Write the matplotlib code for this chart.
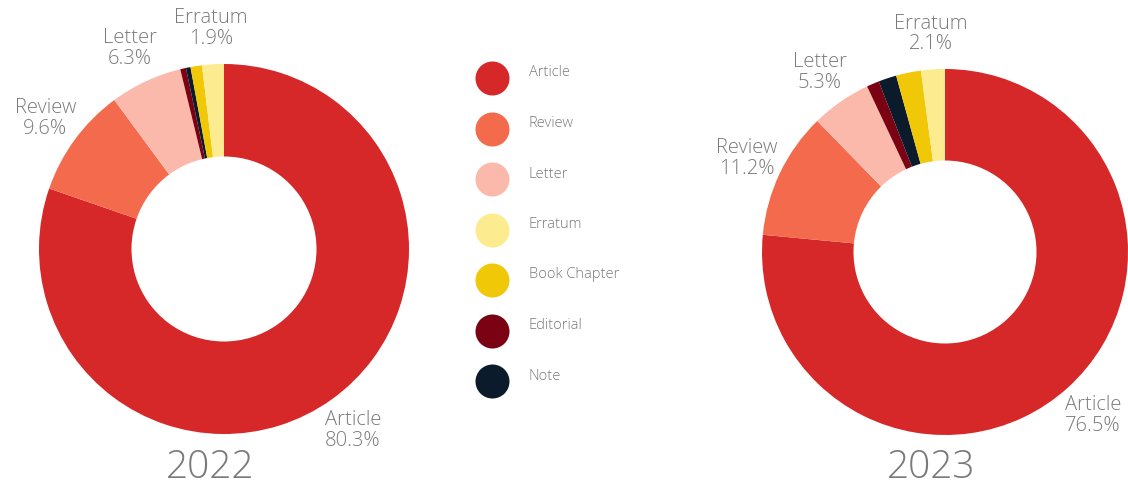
import matplotlib
matplotlib.use("Agg")
import matplotlib.pyplot as plt
import numpy as np

# data
categories = ["Article", "Review", "Letter", "Editorial", "Note", "Book Chapter", "Erratum"]
share_2022 = [80.3, 9.6, 6.3, 0.5, 0.4, 1.0, 1.9]
share_2023 = [76.5, 11.2, 5.3, 1.1, 1.6, 2.2, 2.1]
labelled = ["Article", "Review", "Letter", "Erratum"]

colors = {
    "Article": "#D62828",
    "Review": "#F46A4C",
    "Letter": "#FBB9AC",
    "Erratum": "#FDEB90",
    "Book Chapter": "#F0C808",
    "Editorial": "#7A0213",
    "Note": "#0B1B2C",
}
legend_order = ["Article", "Review", "Letter", "Erratum", "Book Chapter", "Editorial", "Note"]

text_color = "#7a7a7a"
plt.rcParams["font.family"] = ["Open Sans", "DejaVu Sans"]
plt.rcParams["font.weight"] = "light"

W, H = 1128, 489
fig = plt.figure(figsize=(W / 100, H / 100), dpi=100)


def donut(cx, cy, r, values, year):
    ax = fig.add_axes([(cx - r) / W, (H - cy - r) / H, 2 * r / W, 2 * r / H])
    wedges, _ = ax.pie(values, colors=[colors[c] for c in categories],
                       startangle=90, counterclock=False,
                       wedgeprops=dict(width=0.5, linewidth=0))
    ax.set_xlim(-1, 1)
    ax.set_ylim(-1, 1)
    for w, cat, v in zip(wedges, categories, values):
        if cat not in labelled:
            continue
        mid = np.deg2rad((w.theta1 + w.theta2) / 2)
        ax.text(1.2 * np.cos(mid), 1.2 * np.sin(mid), f"{cat}\n{v:.1f}%",
                ha="center", va="center", fontsize=14.5, color=text_color,
                linespacing=1.05, clip_on=False)
    fig.text((cx - 14) / W, 1 - 468 / H, year, ha="center", va="center",
             fontsize=28, color=text_color)
    return ax


donut(224, 250, 185, share_2022, "2022")
donut(945, 253, 183, share_2023, "2023")

# legend drawn by hand: dots and labels
leg = fig.add_axes([0, 0, 1, 1], facecolor="none")
leg.set_xlim(0, W)
leg.set_ylim(H, 0)
leg.axis("off")
for i, cat in enumerate(legend_order):
    y = 79 + i * 50.5
    leg.scatter([492], [y], s=600, color=colors[cat], linewidths=0)
    leg.text(529, y - 6, cat, ha="left", va="center", fontsize=10.5, color=text_color)

fig.savefig("out.png", dpi=100)
